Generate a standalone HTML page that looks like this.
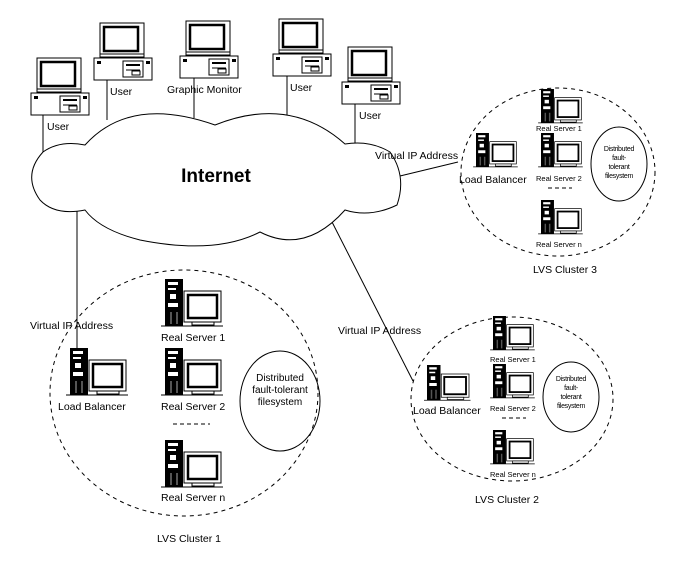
<!DOCTYPE html>
<html><head><meta charset="utf-8"><style>
html,body{margin:0;padding:0;background:#fff;}
svg{display:block;}
text{font-family:"Liberation Sans",sans-serif;fill:#000;}
</style></head><body>
<svg width="682" height="561" viewBox="0 0 682 561" xmlns="http://www.w3.org/2000/svg">
<defs>
<g id="pc">
  <rect x="6" y="0" width="44" height="34" fill="#fff" stroke="#000" stroke-width="1"/>
  <rect x="10" y="4" width="34" height="24" fill="#fff" stroke="#000" stroke-width="2.5"/>
  <line x1="6" y1="31" x2="50" y2="31" stroke="#000"/>
  <rect x="0" y="35" width="58" height="22" fill="#fff" stroke="#000"/>
  <rect x="3" y="38" width="4" height="3" fill="#000"/>
  <rect x="52" y="38" width="4" height="3" fill="#000"/>
  <rect x="29" y="38" width="20" height="16" fill="#fff" stroke="#000"/>
  <line x1="32" y1="42" x2="46" y2="42" stroke="#000" stroke-width="2"/>
  <line x1="32" y1="47" x2="46" y2="47" stroke="#000"/>
  <rect x="38" y="48" width="8" height="4" fill="none" stroke="#000"/>
</g>
<g id="srv">
  <rect x="0" y="0" width="18" height="47" fill="#000"/>
  <rect x="3" y="3" width="10" height="3" fill="#fff"/>
  <rect x="3" y="9" width="8" height="2" fill="#fff"/>
  <rect x="5" y="15" width="6" height="5" fill="#fff"/>
  <rect x="3" y="24" width="10" height="4" fill="#fff"/>
  <rect x="5" y="33" width="2" height="12" fill="#555"/>
  <rect x="11" y="33" width="2" height="12" fill="#555"/>
  <rect x="19" y="12" width="37" height="31" fill="#fff" stroke="#000"/>
  <rect x="23" y="16" width="29" height="23" fill="#fff" stroke="#000" stroke-width="2.5"/>
  <rect x="27" y="43" width="22" height="3" fill="#fff" stroke="#000"/>
  <line x1="-4" y1="47" x2="58" y2="47" stroke="#000"/>
</g>
</defs>

<!-- connectors -->
<g stroke="#000" stroke-width="1" fill="none">
  <line x1="43" y1="115" x2="43" y2="155"/>
  <line x1="107" y1="80" x2="107" y2="120"/>
  <line x1="194" y1="78" x2="194" y2="118"/>
  <line x1="287" y1="76" x2="287" y2="116"/>
  <line x1="355" y1="104" x2="355" y2="143"/>
  <line x1="77" y1="208" x2="77" y2="355"/>
  <line x1="331" y1="220" x2="413" y2="381"/>
  <line x1="400" y1="176" x2="458" y2="162"/>
</g>

<!-- cloud -->
<path d="M43,152 Q60,140 85,145 Q130,95 215,125 Q290,95 345,144 Q370,140 390,152 Q407,176 397,205 Q370,218 345,210 Q305,255 260,232 Q215,255 140,240 Q100,230 85,210 Q55,216 40,200 Q22,175 43,152 Z" fill="#fff" stroke="#000" stroke-width="1"/>
<text x="216" y="182" font-size="19" font-weight="bold" text-anchor="middle">Internet</text>

<!-- desktops -->
<use href="#pc" x="31" y="58"/>
<use href="#pc" x="94" y="23"/>
<use href="#pc" x="180" y="21"/>
<use href="#pc" x="273" y="19"/>
<use href="#pc" x="342" y="47"/>
<g font-size="10.5">
<text x="47" y="130">User</text>
<text x="110" y="95">User</text>
<text x="167" y="93">Graphic Monitor</text>
<text x="290" y="91">User</text>
<text x="359" y="119">User</text>
</g>

<!-- Cluster 1 -->
<ellipse cx="184" cy="393" rx="134" ry="123" fill="none" stroke="#000" stroke-dasharray="4,4"/>
<ellipse cx="280" cy="401" rx="40" ry="50" fill="none" stroke="#000"/>
<g font-size="10" text-anchor="middle">
<text x="280" y="381">Distributed</text><text x="280" y="393">fault-tolerant</text><text x="280" y="405">filesystem</text>
</g>
<use href="#srv" x="70" y="348"/>
<use href="#srv" x="165" y="279"/>
<use href="#srv" x="165" y="348"/>
<use href="#srv" x="165" y="440"/>
<line x1="173" y1="424" x2="210" y2="424" stroke="#000" stroke-dasharray="4,3"/>
<g font-size="10.5">
<text x="30" y="329">Virtual IP Address</text>
<text x="58" y="410">Load Balancer</text>
<text x="161" y="341">Real Server 1</text>
<text x="161" y="410">Real Server 2</text>
<text x="161" y="501">Real Server n</text>
<text x="157" y="542">LVS Cluster 1</text>
</g>

<!-- Cluster 2 -->
<ellipse cx="512" cy="399" rx="101" ry="82" fill="none" stroke="#000" stroke-dasharray="4,4"/>
<ellipse cx="571" cy="397" rx="28" ry="35" fill="none" stroke="#000"/>
<g font-size="7" text-anchor="middle" letter-spacing="-0.3">
<text x="571" y="381">Distributed</text><text x="571" y="390">fault-</text><text x="571" y="399">tolerant</text><text x="571" y="408">filesystem</text>
</g>
<use href="#srv" x="427" y="365" transform="translate(427,365) scale(0.75) translate(-427,-365)"/>
<use href="#srv" x="493" y="316" transform="translate(493,316) scale(0.72) translate(-493,-316)"/>
<use href="#srv" x="493" y="364" transform="translate(493,364) scale(0.72) translate(-493,-364)"/>
<use href="#srv" x="493" y="430" transform="translate(493,430) scale(0.72) translate(-493,-430)"/>
<line x1="502" y1="418" x2="526" y2="418" stroke="#000" stroke-dasharray="4,3"/>
<g font-size="10.5">
<text x="338" y="334">Virtual IP Address</text>
<text x="413" y="414">Load Balancer</text>
<text x="475" y="503">LVS Cluster 2</text>
</g>
<g font-size="7.5">
<text x="490" y="362">Real Server 1</text>
<text x="490" y="411">Real Server 2</text>
<text x="490" y="477">Real Server n</text>
</g>

<!-- Cluster 3 -->
<ellipse cx="558" cy="172" rx="97" ry="84" fill="none" stroke="#000" stroke-dasharray="4,4"/>
<ellipse cx="619" cy="164" rx="28" ry="37" fill="none" stroke="#000"/>
<g font-size="7" text-anchor="middle" letter-spacing="-0.3">
<text x="619" y="151">Distributed</text><text x="619" y="160">fault-</text><text x="619" y="169">tolerant</text><text x="619" y="178">filesystem</text>
</g>
<use href="#srv" x="476" y="133" transform="translate(476,133) scale(0.72) translate(-476,-133)"/>
<use href="#srv" x="541" y="89" transform="translate(541,89) scale(0.72) translate(-541,-89)"/>
<use href="#srv" x="541" y="133" transform="translate(541,133) scale(0.72) translate(-541,-133)"/>
<use href="#srv" x="541" y="200" transform="translate(541,200) scale(0.72) translate(-541,-200)"/>
<line x1="548" y1="188" x2="572" y2="188" stroke="#000" stroke-dasharray="4,3"/>
<g font-size="10.5">
<text x="375" y="159">Virtual IP Address</text>
<text x="459" y="183">Load Balancer</text>
<text x="533" y="273">LVS Cluster 3</text>
</g>
<g font-size="7.5">
<text x="536" y="131">Real Server 1</text>
<text x="536" y="181">Real Server 2</text>
<text x="536" y="247">Real Server n</text>
</g>
</svg>
</body></html>
